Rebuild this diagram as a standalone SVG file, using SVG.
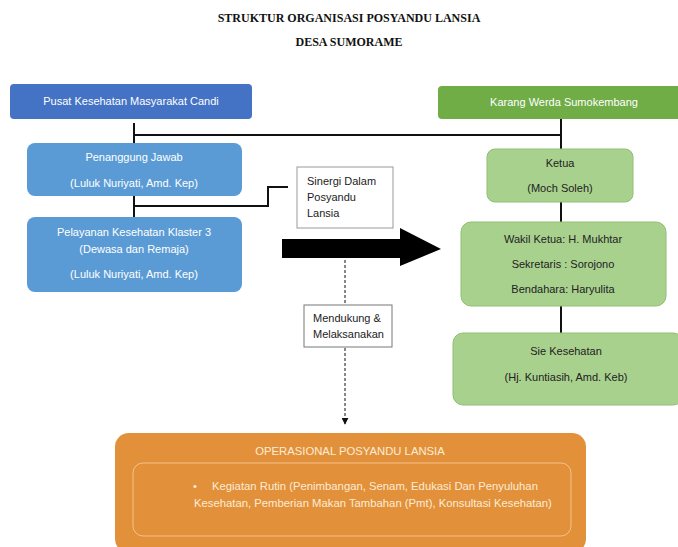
<svg xmlns="http://www.w3.org/2000/svg" width="678" height="547" viewBox="0 0 678 547">
<defs>
<style>
.t{font-family:"Liberation Serif",serif;font-weight:bold;font-size:12px;fill:#111;text-anchor:middle}
.w{font-family:"Liberation Sans","Open Sans",sans-serif;font-size:11px;fill:#fff;text-anchor:middle}
.d{font-family:"Liberation Sans","Open Sans",sans-serif;font-size:11px;fill:#222;text-anchor:middle}
.l{font-family:"Liberation Sans","Open Sans",sans-serif;font-size:11px;fill:#222}
.o{font-family:"Liberation Sans","Open Sans",sans-serif;font-size:11.3px;fill:#fdebd6}
.ln{stroke:#111;stroke-width:2;fill:none}
.ds{stroke:#111;stroke-width:1;stroke-dasharray:3,2;fill:none}
.gb{fill:#a9d18e;stroke:#8fbf72;stroke-width:1}
.bb{fill:#5b9bd5}
</style>
<marker id="ah" viewBox="0 0 10 10" refX="9" refY="5" markerWidth="7" markerHeight="7" orient="auto" markerUnits="userSpaceOnUse"><path d="M0,0L10,5L0,10z" fill="#111"/></marker>
</defs>
<rect width="678" height="547" fill="#fff"/>
<g id="title">
<text class="t" x="349" y="22">STRUKTUR ORGANISASI POSYANDU LANSIA</text>
<text class="t" x="349" y="46">DESA SUMORAME</text>
</g>
<g id="connectors">
<path class="ln" d="M134,123V143M134,135H561M561,119V149"/>
<path class="ln" d="M134,196V217M134,206H268V187H288"/>
<path class="ln" d="M561,202V222M561,306V333"/>
<path d="M282,239H400V228L441,249L400,266V258H282z" fill="#000"/>
<path class="ds" d="M345,260V305"/>
<path class="ds" d="M345,348V424" marker-end="url(#ah)"/>
</g>
<g id="puskesmas">
<rect x="10" y="84" width="242" height="35" rx="4" fill="#4472c4"/>
<text class="w" x="131" y="105">Pusat Kesehatan Masyarakat Candi</text>
</g>
<g id="karang-werda">
<rect x="438" y="86" width="244" height="33" rx="4" fill="#70ad47"/>
<text class="w" x="564" y="106">Karang Werda Sumokembang</text>
</g>
<g id="penanggung-jawab">
<rect class="bb" x="27" y="143" width="215" height="53" rx="8"/>
<text class="w" x="134" y="161">Penanggung Jawab</text>
<text class="w" x="134" y="187">(Luluk Nuriyati, Amd. Kep)</text>
</g>
<g id="pelayanan">
<rect class="bb" x="27" y="217" width="215" height="75" rx="8"/>
<text class="w" x="134" y="236">Pelayanan Kesehatan Klaster 3</text>
<text class="w" x="134" y="253">(Dewasa dan Remaja)</text>
<text class="w" x="134" y="278">(Luluk Nuriyati, Amd. Kep)</text>
</g>
<g id="sinergi">
<rect x="297" y="167" width="96" height="61" fill="#fff" stroke="#999" stroke-width="1"/>
<text class="l" x="307" y="185">Sinergi Dalam</text>
<text class="l" x="307" y="201">Posyandu</text>
<text class="l" x="307" y="217">Lansia</text>
</g>
<g id="mendukung">
<rect x="304" y="305" width="88" height="42" fill="#fff" stroke="#777" stroke-width="1"/>
<text class="l" x="313" y="322">Mendukung &amp;</text>
<text class="l" x="313" y="338">Melaksanakan</text>
</g>
<g id="ketua">
<rect class="gb" x="487" y="149" width="146" height="53" rx="8"/>
<text class="d" x="560" y="167">Ketua</text>
<text class="d" x="560" y="192">(Moch Soleh)</text>
</g>
<g id="wakil">
<rect class="gb" x="461" y="222" width="205" height="84" rx="10"/>
<text class="d" x="563" y="243">Wakil Ketua: H. Mukhtar</text>
<text class="d" x="563" y="268">Sekretaris : Sorojono</text>
<text class="d" x="563" y="293">Bendahara: Haryulita</text>
</g>
<g id="sie-kesehatan">
<rect class="gb" x="453" y="333" width="230" height="72" rx="10"/>
<text class="d" x="566" y="355">Sie Kesehatan</text>
<text class="d" x="566" y="381">(Hj. Kuntiasih, Amd. Keb)</text>
</g>
<g id="operasional">
<rect x="115" y="433" width="471" height="120" rx="14" fill="#e2913a"/>
<text class="o" x="350" y="455" text-anchor="middle">OPERASIONAL POSYANDU LANSIA</text>
<rect x="133" y="463" width="438" height="73" rx="10" fill="none" stroke="#f6c08a" stroke-width="1"/>
<text class="o" x="193" y="490">•</text>
<text class="o" x="212" y="490">Kegiatan Rutin (Penimbangan, Senam, Edukasi Dan Penyuluhan</text>
<text class="o" x="194" y="507">Kesehatan, Pemberian Makan Tambahan (Pmt), Konsultasi Kesehatan)</text>
</g>
</svg>
